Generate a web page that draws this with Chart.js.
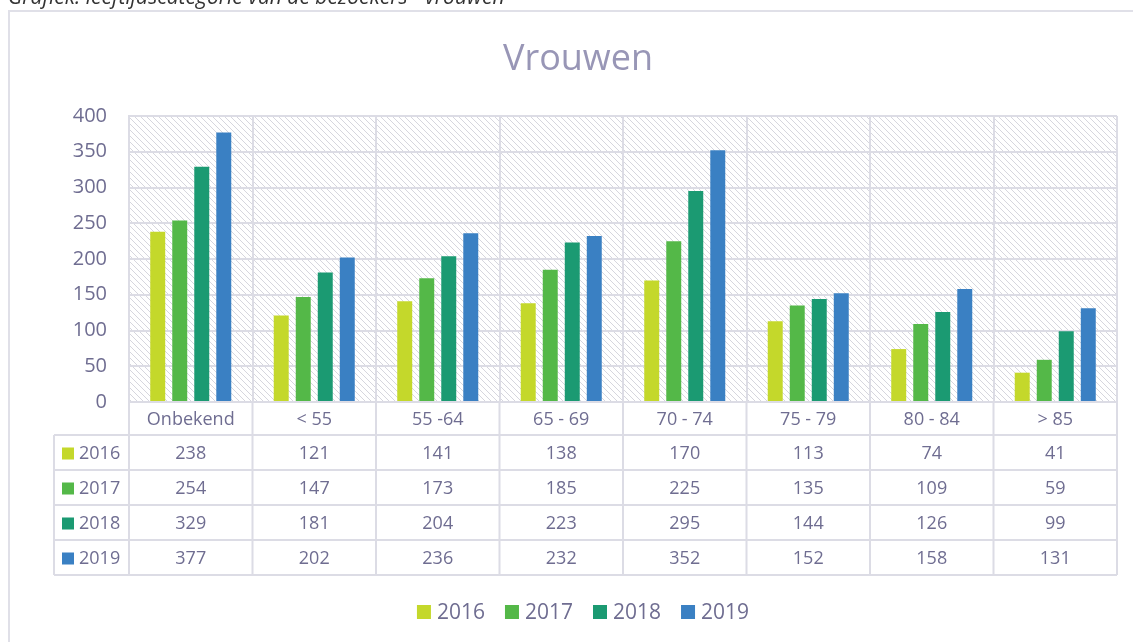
<!DOCTYPE html>
<html>
<head>
<meta charset="utf-8">
<script src="https://cdn.jsdelivr.net/npm/chart.js@4"></script>
<style>
  html, body { margin: 0; padding: 0; background: #fff; }
  #wrap { width: 1133px; height: 642px; position: relative; }
</style>
</head>
<body>
<div id="wrap"><canvas id="vrouwen" width="1133" height="642"></canvas></div>
<script>
// data ////////////////////////////////////////////////////////////////
var categories = ['Onbekend', '< 55', '55 -64', '65 - 69', '70 - 74', '75 - 79', '80 - 84', '> 85'];
var years = ['2016', '2017', '2018', '2019'];
var v2016 = [238, 121, 141, 138, 170, 113, 74, 41];
var v2017 = [254, 147, 173, 185, 225, 135, 109, 59];
var v2018 = [329, 181, 204, 223, 295, 144, 126, 99];
var v2019 = [377, 202, 236, 232, 352, 152, 158, 131];
var yTicks = [0, 50, 100, 150, 200, 250, 300, 350, 400];
var colors = ['#c4d82b', '#54b848', '#1b9a72', '#3a80c3'];

var textColor = '#6f6d91';
var lineColor = '#dcdce5';
var font = "'Open Sans', 'Noto Sans', sans-serif";

// hatch pattern for the plot area
function makeHatch() {
	var c = document.createElement('canvas');
	c.width = 6; c.height = 6;
	var g = c.getContext('2d');
	g.strokeStyle = '#d6d6de';
	g.lineWidth = 1;
	g.beginPath();
	g.moveTo(-1, -1); g.lineTo(7, 7);
	g.moveTo(-1, 5); g.lineTo(1, 7);
	g.moveTo(5, -1); g.lineTo(7, 1);
	g.stroke();
	return g.createPattern(c, 'repeat');
}

// table + legend + title + frame drawn around the chart
var tablePlugin = {
	id: 'dataTable',
	beforeDraw: function(chart) {
		var ctx = chart.ctx, a = chart.chartArea;
		ctx.save();
		ctx.fillStyle = makeHatch();
		ctx.fillRect(a.left, a.top, a.right - a.left, a.bottom - a.top);
		ctx.restore();
	},
	afterDraw: function(chart) {
		var ctx = chart.ctx, a = chart.chartArea;
		var xs = chart.scales.x;
		var rowH = 35, headLeft = 54;
		var labelRowBottom = a.bottom + 33;
		var tableBottom = labelRowBottom + rowH * years.length;
		var n = categories.length;
		var step = (a.right - a.left) / n;

		ctx.save();
		ctx.strokeStyle = lineColor;
		ctx.lineWidth = 2;
		ctx.beginPath();
		// horizontal lines
		ctx.moveTo(a.left, a.bottom); ctx.lineTo(a.right, a.bottom);
		for (var r = 0; r <= years.length; r++) {
			var y = labelRowBottom + r * rowH;
			ctx.moveTo(headLeft, y); ctx.lineTo(a.right, y);
		}
		// vertical lines
		for (var i = 0; i <= n; i++) {
			var x = a.left + i * step;
			ctx.moveTo(x, a.bottom); ctx.lineTo(x, tableBottom);
		}
		ctx.moveTo(headLeft, labelRowBottom); ctx.lineTo(headLeft, tableBottom);
		ctx.stroke();

		// cell values
		ctx.fillStyle = textColor;
		ctx.font = '18px ' + font;
		ctx.textBaseline = 'middle';
		chart.data.datasets.forEach(function(ds, r) {
			var cy = labelRowBottom + r * rowH + rowH / 2 + 1;
			ctx.textAlign = 'center';
			ctx.fillStyle = textColor;
			ds.data.forEach(function(v, i) {
				ctx.fillText(String(v), xs.getPixelForValue(i), cy);
			});
			ctx.fillStyle = ds.backgroundColor;
			ctx.fillRect(62, cy - 6, 12, 12);
			ctx.fillStyle = textColor;
			ctx.textAlign = 'left';
			ctx.fillText(ds.label, 79, cy);
		});

		// legend
		ctx.font = '21px ' + font;
		var sq = 14, gap = 6, itemGap = 20;
		var widths = chart.data.datasets.map(function(ds) { return sq + gap + ctx.measureText(ds.label).width; });
		var total = widths.reduce(function(s, w) { return s + w; }, 0) + itemGap * (widths.length - 1);
		var lx = 583 - total / 2, ly = 612;
		chart.data.datasets.forEach(function(ds, k) {
			ctx.fillStyle = ds.backgroundColor;
			ctx.fillRect(lx, ly - 7, sq, sq);
			ctx.fillStyle = textColor;
			ctx.textAlign = 'left';
			ctx.fillText(ds.label, lx + sq + gap, ly + 1);
			lx += widths[k] + itemGap;
		});

		// title
		ctx.fillStyle = '#9896b6';
		ctx.font = '36px ' + font;
		ctx.textAlign = 'center';
		ctx.fillText('Vrouwen', 578, 60);

		// outer frame
		ctx.strokeStyle = '#e0e0e8';
		ctx.lineWidth = 2;
		ctx.beginPath();
		ctx.moveTo(9, 642); ctx.lineTo(9, 11); ctx.lineTo(1133, 11);
		ctx.stroke();

		// caption cut off at the top
		ctx.fillStyle = '#333';
		ctx.font = 'italic 21px ' + font;
		ctx.textAlign = 'left';
		ctx.textBaseline = 'alphabetic';
		ctx.fillText('Grafiek: leeftijdscategorie van de bezoekers - vrouwen', 8, 4);
		ctx.restore();
	}
};

var seriesData = [v2016, v2017, v2018, v2019];
var barChart = document.getElementById('vrouwen').getContext('2d');
var vrouwen = new Chart(barChart, {
	type: 'bar',
	data: {
		labels: categories,
		datasets: years.map(function(y, i) {
			return {
				label: y,
				data: seriesData[i],
				backgroundColor: colors[i],
				categoryPercentage: 0.713,
				barPercentage: 0.68
			};
		})
	},
	options: {
		responsive: false,
		animation: false,
		layout: {
			padding: { top: 116, left: 0, right: 16, bottom: 207 }
		},
		plugins: {
			legend: { display: false },
			tooltip: { enabled: false },
			title: { display: false }
		},
		scales: {
			x: {
				grid: { color: lineColor, lineWidth: 2, drawTicks: false, offset: true },
				border: { color: lineColor, width: 2 },
				ticks: { color: textColor, font: { family: font, size: 18 }, padding: 7, maxRotation: 0 },
				afterFit: function(scale) { scale.height = 33; }
			},
			y: {
				min: 0,
				max: 400,
				afterBuildTicks: function(scale) {
					scale.ticks = yTicks.map(function(v) { return { value: v }; });
				},
				grid: { color: lineColor, lineWidth: 2, drawTicks: false },
				border: { color: lineColor, width: 2 },
				ticks: { color: textColor, font: { family: font, size: 20 }, padding: 22 },
				afterFit: function(scale) { scale.width = 129; }
			}
		}
	},
	plugins: [tablePlugin]
});
</script>
</body>
</html>
